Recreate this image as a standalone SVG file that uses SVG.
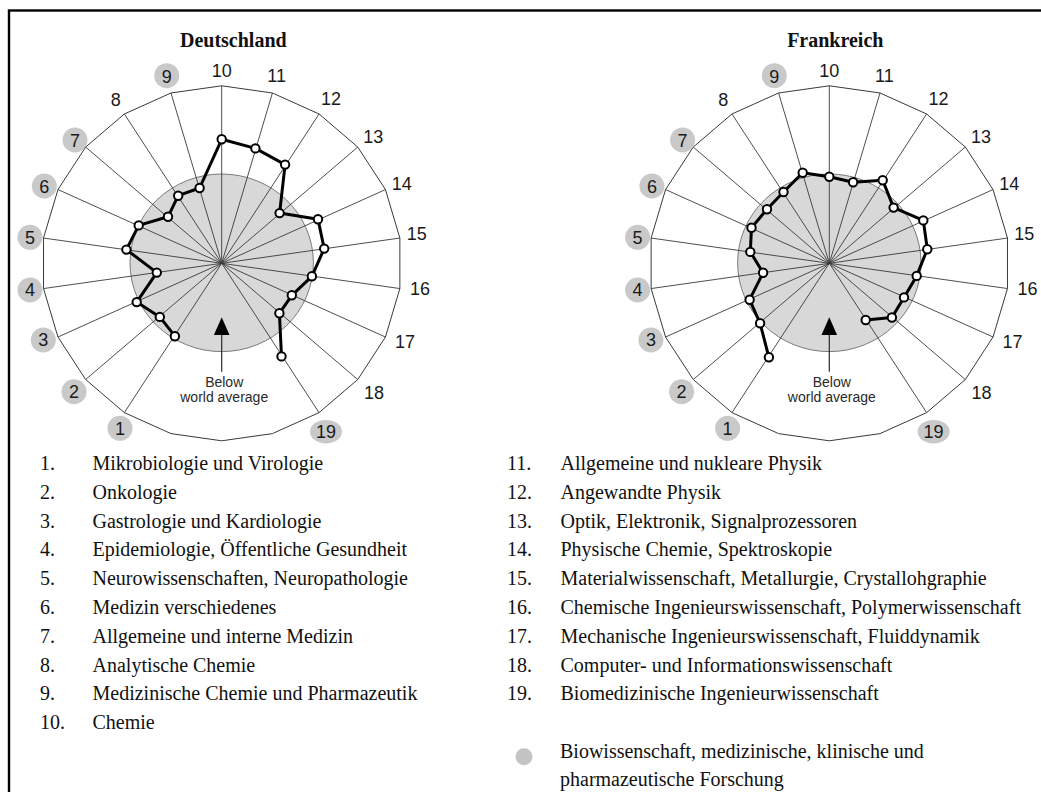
<svg xmlns="http://www.w3.org/2000/svg" width="1041" height="792" viewBox="0 0 1041 792">
  <style>
    .frame { fill: none; stroke: #000; stroke-width: 2.4; }
    .title { font-family: "Liberation Serif", "Times New Roman", serif; font-weight: bold; font-size: 20px; fill: #111; text-anchor: middle; }
    .area { fill: #d8d8d8; stroke: #7a7a7a; stroke-width: 1; }
    .rim { fill: none; stroke: #3a3a3a; stroke-width: 1; stroke-linejoin: miter; }
    .spoke { stroke: #3a3a3a; stroke-width: 0.9; }
    .axis { font-family: "Liberation Sans", Arial, sans-serif; font-size: 18px; fill: #1a1a1a; text-anchor: middle; }
    .badge { fill: #c9c9c9; }
    .note { font-family: "Liberation Sans", Arial, sans-serif; font-size: 14px; fill: #2a2a2a; text-anchor: middle; }
    .pointer { stroke: #2a2a2a; stroke-width: 1.2; }
    .series { fill: none; stroke: #000; stroke-width: 3; stroke-linejoin: round; stroke-linecap: round; }
    .dot { fill: #fff; stroke: #000; stroke-width: 2; }
    .legend { font-family: "Liberation Serif", "Times New Roman", serif; font-size: 20px; fill: #111; }
  </style>

  <rect x="0" y="0" width="1041" height="792" fill="#fff"/>
  <rect class="frame" x="9" y="10.5" width="1100" height="900"/>

  <!-- Chart 1: Deutschland -->
  <g id="chart-de" transform="translate(221.7,263.3)">
    <ellipse class="area" cx="0" cy="-0.5" rx="91.7" ry="88.8"/>
    <polygon class="rim" points="0,-177.5 50.71,-170.31 97.32,-149.32 136.04,-116.24 163.73,-73.73 178.17,-25.26 178.17,25.26 163.73,73.73 136.04,116.24 97.32,149.32 50.71,170.31 0,177.5 -50.71,170.31 -97.32,149.32 -136.04,116.24 -163.73,73.73 -178.17,25.26 -178.17,-25.26 -163.73,-73.73 -136.04,-116.24 -97.32,-149.32 -50.71,-170.31"/>
    <g class="spoke">
      <line x1="0" y1="0" x2="0" y2="-177.5"/>
      <line x1="0" y1="0" x2="50.71" y2="-170.31"/>
      <line x1="0" y1="0" x2="97.32" y2="-149.32"/>
      <line x1="0" y1="0" x2="136.04" y2="-116.24"/>
      <line x1="0" y1="0" x2="163.73" y2="-73.73"/>
      <line x1="0" y1="0" x2="178.17" y2="-25.26"/>
      <line x1="0" y1="0" x2="178.17" y2="25.26"/>
      <line x1="0" y1="0" x2="163.73" y2="73.73"/>
      <line x1="0" y1="0" x2="136.04" y2="116.24"/>
      <line x1="0" y1="0" x2="97.32" y2="149.32"/>
      <line x1="0" y1="0" x2="-97.32" y2="149.32"/>
      <line x1="0" y1="0" x2="-136.04" y2="116.24"/>
      <line x1="0" y1="0" x2="-163.73" y2="73.73"/>
      <line x1="0" y1="0" x2="-178.17" y2="25.26"/>
      <line x1="0" y1="0" x2="-178.17" y2="-25.26"/>
      <line x1="0" y1="0" x2="-163.73" y2="-73.73"/>
      <line x1="0" y1="0" x2="-136.04" y2="-116.24"/>
      <line x1="0" y1="0" x2="-97.32" y2="-149.32"/>
      <line x1="0" y1="0" x2="-50.71" y2="-170.31"/>
    </g>
    <polygon points="0,54 -7.8,71.7 7.8,71.7" fill="#000"/>
    <line class="pointer" x1="0" y1="71.7" x2="0" y2="108.4"/>
    <text class="note" x="2.5" y="124">Below</text>
    <text class="note" x="2.5" y="138.4">world average</text>
    <!-- axis badges -->
    <circle class="badge" cx="-101.7" cy="165" r="12.5"/>
    <circle class="badge" cx="-147.7" cy="128.4" r="12.5"/>
    <circle class="badge" cx="-178.4" cy="76.7" r="12.5"/>
    <circle class="badge" cx="-191.7" cy="26.7" r="12.5"/>
    <circle class="badge" cx="-191.7" cy="-26" r="12.5"/>
    <circle class="badge" cx="-177.4" cy="-77.3" r="12.5"/>
    <circle class="badge" cx="-146.7" cy="-123.3" r="12.5"/>
    <circle class="badge" cx="-55" cy="-187.6" r="12.5"/>
    <ellipse class="badge" cx="104.3" cy="168.4" rx="16" ry="11.8"/>
    <text class="axis" x="-101.7" y="171.5">1</text>
    <text class="axis" x="-147.7" y="134.9">2</text>
    <text class="axis" x="-178.4" y="83.2">3</text>
    <text class="axis" x="-191.7" y="33.2">4</text>
    <text class="axis" x="-191.7" y="-19.5">5</text>
    <text class="axis" x="-177.4" y="-70.8">6</text>
    <text class="axis" x="-146.7" y="-116.8">7</text>
    <text class="axis" x="-106" y="-157.5">8</text>
    <text class="axis" x="-55" y="-180.1">9</text>
    <text class="axis" x="0" y="-186.8">10</text>
    <text class="axis" x="55" y="-181.8">11</text>
    <text class="axis" x="109.3" y="-158.5">12</text>
    <text class="axis" x="151.6" y="-120.1">13</text>
    <text class="axis" x="180" y="-73.5">14</text>
    <text class="axis" x="195" y="-23.5">15</text>
    <text class="axis" x="198.3" y="31.5">16</text>
    <text class="axis" x="183.3" y="84.9">17</text>
    <text class="axis" x="152.3" y="135.9">18</text>
    <text class="axis" x="104.3" y="174.9">19</text>
    <!-- scores -->
    <polyline class="series" points="-46.8,72.9 -61.9,53.6 -85,38.8 -64.9,9.3 -95.3,-13.7 -83,-37.9 -53.7,-46.5 -43.5,-67.6 -22.1,-75.3 0,-124 33.7,-114.9 63.4,-98.7 57.9,-50.2 96.3,-44 102.5,-14.7 90.2,13 70.1,32 57.7,50 59.8,93.1"/>
    <g class="dot">
      <circle cx="-46.8" cy="72.9" r="4.2"/>
      <circle cx="-61.9" cy="53.6" r="4.2"/>
      <circle cx="-85" cy="38.8" r="4.2"/>
      <circle cx="-64.9" cy="9.3" r="4.2"/>
      <circle cx="-95.3" cy="-13.7" r="4.2"/>
      <circle cx="-83" cy="-37.9" r="4.2"/>
      <circle cx="-53.7" cy="-46.5" r="4.2"/>
      <circle cx="-43.5" cy="-67.6" r="4.2"/>
      <circle cx="-22.1" cy="-75.3" r="4.2"/>
      <circle cx="0" cy="-124" r="4.2"/>
      <circle cx="33.7" cy="-114.9" r="4.2"/>
      <circle cx="63.4" cy="-98.7" r="4.2"/>
      <circle cx="57.9" cy="-50.2" r="4.2"/>
      <circle cx="96.3" cy="-44" r="4.2"/>
      <circle cx="102.5" cy="-14.7" r="4.2"/>
      <circle cx="90.2" cy="13" r="4.2"/>
      <circle cx="70.1" cy="32" r="4.2"/>
      <circle cx="57.7" cy="50" r="4.2"/>
      <circle cx="59.8" cy="93.1" r="4.2"/>
    </g>
  </g>
  <text class="title" x="233.3" y="46.5">Deutschland</text>

  <!-- Chart 2: Frankreich -->
  <g id="chart-fr" transform="translate(829.3,263.3)">
    <ellipse class="area" cx="0" cy="-0.5" rx="91.7" ry="88.8"/>
    <polygon class="rim" points="0,-177.5 50.71,-170.31 97.32,-149.32 136.04,-116.24 163.73,-73.73 178.17,-25.26 178.17,25.26 163.73,73.73 136.04,116.24 97.32,149.32 50.71,170.31 0,177.5 -50.71,170.31 -97.32,149.32 -136.04,116.24 -163.73,73.73 -178.17,25.26 -178.17,-25.26 -163.73,-73.73 -136.04,-116.24 -97.32,-149.32 -50.71,-170.31"/>
    <g class="spoke">
      <line x1="0" y1="0" x2="0" y2="-177.5"/>
      <line x1="0" y1="0" x2="50.71" y2="-170.31"/>
      <line x1="0" y1="0" x2="97.32" y2="-149.32"/>
      <line x1="0" y1="0" x2="136.04" y2="-116.24"/>
      <line x1="0" y1="0" x2="163.73" y2="-73.73"/>
      <line x1="0" y1="0" x2="178.17" y2="-25.26"/>
      <line x1="0" y1="0" x2="178.17" y2="25.26"/>
      <line x1="0" y1="0" x2="163.73" y2="73.73"/>
      <line x1="0" y1="0" x2="136.04" y2="116.24"/>
      <line x1="0" y1="0" x2="97.32" y2="149.32"/>
      <line x1="0" y1="0" x2="-97.32" y2="149.32"/>
      <line x1="0" y1="0" x2="-136.04" y2="116.24"/>
      <line x1="0" y1="0" x2="-163.73" y2="73.73"/>
      <line x1="0" y1="0" x2="-178.17" y2="25.26"/>
      <line x1="0" y1="0" x2="-178.17" y2="-25.26"/>
      <line x1="0" y1="0" x2="-163.73" y2="-73.73"/>
      <line x1="0" y1="0" x2="-136.04" y2="-116.24"/>
      <line x1="0" y1="0" x2="-97.32" y2="-149.32"/>
      <line x1="0" y1="0" x2="-50.71" y2="-170.31"/>
    </g>
    <polygon points="0,54 -7.8,71.7 7.8,71.7" fill="#000"/>
    <line class="pointer" x1="0" y1="71.7" x2="0" y2="108.4"/>
    <text class="note" x="2.5" y="124">Below</text>
    <text class="note" x="2.5" y="138.4">world average</text>
    <!-- axis badges -->
    <circle class="badge" cx="-101.7" cy="165" r="12.5"/>
    <circle class="badge" cx="-147.7" cy="128.4" r="12.5"/>
    <circle class="badge" cx="-178.4" cy="76.7" r="12.5"/>
    <circle class="badge" cx="-191.7" cy="26.7" r="12.5"/>
    <circle class="badge" cx="-191.7" cy="-26" r="12.5"/>
    <circle class="badge" cx="-177.4" cy="-77.3" r="12.5"/>
    <circle class="badge" cx="-146.7" cy="-123.3" r="12.5"/>
    <circle class="badge" cx="-55" cy="-187.6" r="12.5"/>
    <ellipse class="badge" cx="104.3" cy="168.4" rx="16" ry="11.8"/>
    <text class="axis" x="-101.7" y="171.5">1</text>
    <text class="axis" x="-147.7" y="134.9">2</text>
    <text class="axis" x="-178.4" y="83.2">3</text>
    <text class="axis" x="-191.7" y="33.2">4</text>
    <text class="axis" x="-191.7" y="-19.5">5</text>
    <text class="axis" x="-177.4" y="-70.8">6</text>
    <text class="axis" x="-146.7" y="-116.8">7</text>
    <text class="axis" x="-106" y="-157.5">8</text>
    <text class="axis" x="-55" y="-180.1">9</text>
    <text class="axis" x="0" y="-186.8">10</text>
    <text class="axis" x="55" y="-181.8">11</text>
    <text class="axis" x="109.3" y="-158.5">12</text>
    <text class="axis" x="151.6" y="-120.1">13</text>
    <text class="axis" x="180" y="-73.5">14</text>
    <text class="axis" x="195" y="-23.5">15</text>
    <text class="axis" x="198.3" y="31.5">16</text>
    <text class="axis" x="183.3" y="84.9">17</text>
    <text class="axis" x="152.3" y="135.9">18</text>
    <text class="axis" x="104.3" y="174.9">19</text>
    <!-- scores -->
    <polyline class="series" points="-60.4,94 -69.2,60 -79.7,36.4 -66.2,9.5 -79,-11.4 -77.8,-35.5 -62.3,-54 -45.8,-71.3 -26.6,-90.6 0,-86.6 23.8,-81 53.4,-83 64.3,-55.7 94,-42.9 98,-14.1 87.4,12.6 74.7,34.1 62.6,54.2 36.4,56.7"/>
    <g class="dot">
      <circle cx="-60.4" cy="94" r="4.2"/>
      <circle cx="-69.2" cy="60" r="4.2"/>
      <circle cx="-79.7" cy="36.4" r="4.2"/>
      <circle cx="-66.2" cy="9.5" r="4.2"/>
      <circle cx="-79" cy="-11.4" r="4.2"/>
      <circle cx="-77.8" cy="-35.5" r="4.2"/>
      <circle cx="-62.3" cy="-54" r="4.2"/>
      <circle cx="-45.8" cy="-71.3" r="4.2"/>
      <circle cx="-26.6" cy="-90.6" r="4.2"/>
      <circle cx="0" cy="-86.6" r="4.2"/>
      <circle cx="23.8" cy="-81" r="4.2"/>
      <circle cx="53.4" cy="-83" r="4.2"/>
      <circle cx="64.3" cy="-55.7" r="4.2"/>
      <circle cx="94" cy="-42.9" r="4.2"/>
      <circle cx="98" cy="-14.1" r="4.2"/>
      <circle cx="87.4" cy="12.6" r="4.2"/>
      <circle cx="74.7" cy="34.1" r="4.2"/>
      <circle cx="62.6" cy="54.2" r="4.2"/>
      <circle cx="36.4" cy="56.7" r="4.2"/>
    </g>
  </g>
  <text class="title" x="835.3" y="46.5">Frankreich</text>

  <!-- Legend: fields 1-10 -->
  <g id="legend-left" class="legend">
    <text x="40" y="470">1.</text><text x="92.5" y="470">Mikrobiologie und Virologie</text>
    <text x="40" y="498.8">2.</text><text x="92.5" y="498.8">Onkologie</text>
    <text x="40" y="527.6">3.</text><text x="92.5" y="527.6">Gastrologie und Kardiologie</text>
    <text x="40" y="556.4">4.</text><text x="92.5" y="556.4">Epidemiologie, Öffentliche Gesundheit</text>
    <text x="40" y="585.2">5.</text><text x="92.5" y="585.2">Neurowissenschaften, Neuropathologie</text>
    <text x="40" y="614">6.</text><text x="92.5" y="614">Medizin verschiedenes</text>
    <text x="40" y="642.8">7.</text><text x="92.5" y="642.8">Allgemeine und interne Medizin</text>
    <text x="40" y="671.6">8.</text><text x="92.5" y="671.6">Analytische Chemie</text>
    <text x="40" y="700.4">9.</text><text x="92.5" y="700.4">Medizinische Chemie und Pharmazeutik</text>
    <text x="40" y="729.2">10.</text><text x="92.5" y="729.2">Chemie</text>
  </g>

  <!-- Legend: fields 11-19 -->
  <g id="legend-right" class="legend">
    <text x="507" y="470">11.</text><text x="560.5" y="470">Allgemeine und nukleare Physik</text>
    <text x="507" y="498.8">12.</text><text x="560.5" y="498.8">Angewandte Physik</text>
    <text x="507" y="527.6">13.</text><text x="560.5" y="527.6">Optik, Elektronik, Signalprozessoren</text>
    <text x="507" y="556.4">14.</text><text x="560.5" y="556.4">Physische Chemie, Spektroskopie</text>
    <text x="507" y="585.2">15.</text><text x="560.5" y="585.2">Materialwissenschaft, Metallurgie, Crystallohgraphie</text>
    <text x="507" y="614">16.</text><text x="560.5" y="614">Chemische Ingenieurswissenschaft, Polymerwissenschaft</text>
    <text x="507" y="642.8">17.</text><text x="560.5" y="642.8">Mechanische Ingenieurswissenschaft, Fluiddynamik</text>
    <text x="507" y="671.6">18.</text><text x="560.5" y="671.6">Computer- und Informationswissenschaft</text>
    <text x="507" y="700.4">19.</text><text x="560.5" y="700.4">Biomedizinische Ingenieurwissenschaft</text>
  </g>

  <!-- Key for shaded axis numbers -->
  <g id="legend-key" class="legend">
    <circle cx="524" cy="756.8" r="8.5" fill="#c4c4c4"/>
    <text x="560" y="758.3">Biowissenschaft, medizinische, klinische und</text>
    <text x="560" y="785.5">pharmazeutische Forschung</text>
  </g>
</svg>
